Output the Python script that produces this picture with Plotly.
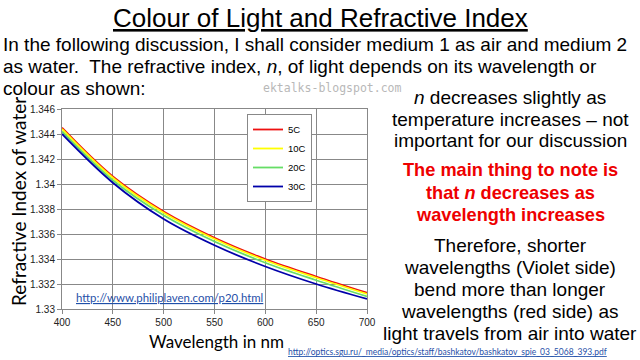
import plotly.graph_objects as go

wavelength = [400, 450, 500, 550, 600, 650, 700]
n_5C = [1.3445, 1.3406, 1.3378, 1.3357, 1.3340, 1.3326, 1.3313]
n_10C = [1.3444, 1.3405, 1.3377, 1.3356, 1.3339, 1.3325, 1.3312]
n_20C = [1.3442, 1.3403, 1.3375, 1.3354, 1.3337, 1.3323, 1.3310]
n_30C = [1.3440, 1.3401, 1.3372, 1.3351, 1.3334, 1.3320, 1.3308]

y_tick_vals = [1.330, 1.332, 1.334, 1.336, 1.338, 1.340, 1.342, 1.344, 1.346]
y_tick_text = ["1.33", "1.332", "1.334", "1.336", "1.338", "1.34", "1.342", "1.344", "1.346"]
x_tick_vals = [400, 450, 500, 550, 600, 650, 700]

series = [
    ("5C", n_5C, "#ee1111"),
    ("10C", n_10C, "#ffff00"),
    ("20C", n_20C, "#66dd66"),
    ("30C", n_30C, "#0000aa"),
]

fig = go.Figure()
for name, vals, col in series:
    fig.add_trace(go.Scatter(x=wavelength, y=vals, name=name, mode="lines",
                             line=dict(color=col, width=1.8, shape="spline")))

W, H = 640, 360
x0, x1 = 62, 367
y0, y1 = 109, 309

fig.update_layout(
    template="none",
    width=W, height=H, autosize=False,
    margin=dict(l=0, r=0, t=0, b=0, pad=0, autoexpand=False),
    paper_bgcolor="white", plot_bgcolor="white",
    font=dict(family="Liberation Sans, Arial, sans-serif", color="black"),
    showlegend=True,
    legend=dict(x=247 / W, y=1 - 114 / H, xanchor="left", yanchor="top",
                bgcolor="white", bordercolor="#888888", borderwidth=1,
                font=dict(size=9.5, family="Liberation Sans, Arial"),
                itemwidth=30, tracegroupgap=4),
    xaxis=dict(domain=[x0 / W, x1 / W], range=[400, 700], tickvals=x_tick_vals,
               automargin=False,
               showgrid=True, gridcolor="#888888", gridwidth=1,
               showline=True, linecolor="#888888", linewidth=1, mirror=True, zeroline=False,
               ticks="outside", ticklen=4, tickcolor="#888888",
               tickfont=dict(size=10, color="#222222")),
    yaxis=dict(domain=[1 - y1 / H, 1 - y0 / H], range=[1.330, 1.346],
               tickvals=y_tick_vals, ticktext=y_tick_text, automargin=False,
               showgrid=True, gridcolor="#888888", gridwidth=1,
               showline=True, linecolor="#888888", linewidth=1, mirror=True, zeroline=False,
               ticks="outside", ticklen=4, tickcolor="#888888",
               tickfont=dict(size=10, color="#222222")),
)

def ann(text, x, y, size, color="black", family="Liberation Sans, Arial", xanchor="center", angle=0):
    fig.add_annotation(text=text, x=x / W, y=1 - y / H, xref="paper", yref="paper",
                       showarrow=False, xanchor=xanchor, yanchor="middle", textangle=angle,
                       font=dict(size=size, color=color, family=family))

ann("<u>Colour of Light and Refractive Index</u>", 320, 18, 26)
ann("In the following discussion, I shall consider medium 1 as air and medium 2", 1, 44, 19, xanchor="left")
ann("as water.  The refractive index, <i>n</i>, of light depends on its wavelength or", 1, 66, 19, xanchor="left")
ann("colour as shown:", 1, 88, 19, xanchor="left")
ann("ektalks-blogspot.com", 332, 88, 11.5, color="#b8b8b8", family="DejaVu Sans Mono, monospace")

right_lines = [
    ("<i>n</i> decreases slightly as", 98, "black", False),
    ("temperature increases \u2013 not", 120, "black", False),
    ("important for our discussion", 141, "black", False),
    ("The main thing to note is", 170, "#ee0000", True),
    ("that <i>n</i> decreases as", 193, "#ee0000", True),
    ("wavelength increases", 215, "#ee0000", True),
    ("Therefore, shorter", 245, "black", False),
    ("wavelengths (Violet side)", 267, "black", False),
    ("bend more than longer", 289, "black", False),
    ("wavelengths (red side) as", 311, "black", False),
    ("light travels from air into water", 333, "black", False),
]
for t, y, c, bold in right_lines:
    ann(("<b>%s</b>" % t) if bold else t, 510, y, 18.2 if bold else 19, color=c)

ann("Refractive Index of water", 18, 202, 19, family="Lato, Open Sans, sans-serif", angle=-90)
ann("Wavelength in nm", 216, 341, 17, family="Lato, Open Sans, sans-serif")
ann("<u>http://www.philiplaven.com/p20.html</u>", 74, 297, 11.4, color="#1f4fa8",
    family="Lato, Open Sans, sans-serif", xanchor="left")
ann("<u>http://optics.sgu.ru/_media/optics/staff/bashkatov/bashkatov_spie_03_5068_393.pdf</u>",
    286, 352, 8.5, color="#1f4fa8", family="Lato, Open Sans, sans-serif", xanchor="left")

fig.write_html("out.html", config={"displayModeBar": False},
               post_script="document.body.style.margin='0px';document.body.style.overflow='hidden';")
